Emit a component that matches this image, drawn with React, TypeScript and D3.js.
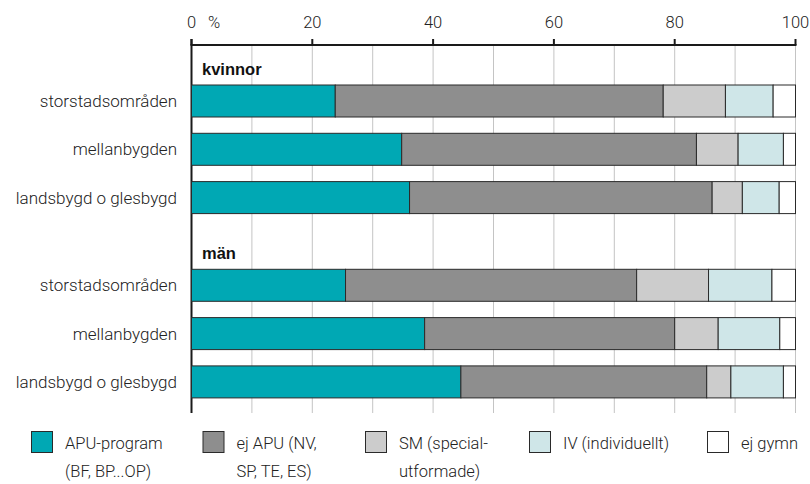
import React from 'react';
import * as d3 from 'd3';

const regions = ['storstadsområden', 'mellanbygden', 'landsbygd o glesbygd'];
const groups = ['kvinnor', 'män'];
const seriesKeys = ['apu', 'ejApu', 'sm', 'iv', 'ejGymn'];

// percent per region, in order of regions
const kvinnorApu = [23.8, 34.8, 36.1];
const kvinnorEjApu = [54.3, 48.8, 50.1];
const kvinnorSm = [10.3, 6.9, 5.0];
const kvinnorIv = [7.9, 7.5, 6.1];
const kvinnorEjGymn = [3.7, 2.0, 2.7];

const manApu = [25.5, 38.6, 44.6];
const manEjApu = [48.2, 41.4, 40.7];
const manSm = [11.9, 7.2, 4.0];
const manIv = [10.5, 10.2, 8.7];
const manEjGymn = [3.9, 2.6, 2.0];

const legendLines = [
  ['APU-program', '(BF, BP...OP)'],
  ['ej APU (NV,', 'SP, TE, ES)'],
  ['SM (special-', 'utformade)'],
  ['IV (individuellt)'],
  ['ej gymn'],
];
const colors = ['#00a8b4', '#8e8e8e', '#cccccc', '#cfe6e8', '#ffffff'];
const xTicks = [0, 20, 40, 60, 80, 100];
const gridTicks = d3.range(10, 101, 10);

const groupData = [
  [kvinnorApu, kvinnorEjApu, kvinnorSm, kvinnorIv, kvinnorEjGymn],
  [manApu, manEjApu, manSm, manIv, manEjGymn],
];

const W = 810;
const H = 484;
const font = 'Roboto, "Liberation Sans", Arial, sans-serif';

const App: React.FC = () => {
  const x = d3.scaleLinear().domain([0, 100]).range([191.5, 795.5]);
  const axisY = 45;
  const plotBottom = 413;
  const barH = 32;
  const rowStep = 48.3;
  const groupTop = [85, 269.3];

  const rows = groupData.flatMap((g, gi) =>
    regions.map((name, ri) => {
      const rec: Record<string, number> = {};
      seriesKeys.forEach((k, si) => (rec[k] = g[si][ri]));
      return { name, y: groupTop[gi] + ri * rowStep, rec };
    })
  );
  const stacked = rows.map(r => {
    const s = d3.stack<Record<string, number>>().keys(seriesKeys)([r.rec]);
    return { ...r, segs: s.map(l => [l[0][0], l[0][1]]) };
  });

  const legendX = [31, 202.5, 365, 529, 707];
  const fs = 16.5;

  return (
    <svg width={W} height={H} style={{ position: 'absolute', left: 0, top: 0 }} fontFamily={font} fontWeight={300}>
      <rect width={W} height={H} fill="#fff" />
      {gridTicks.map(t => (
        <line key={t} x1={x(t)} x2={x(t)} y1={axisY} y2={plotBottom} stroke="#c4c4c4" strokeWidth={1} />
      ))}
      <line x1={x(0)} x2={x(0)} y1={axisY - 6} y2={plotBottom} stroke="#1a1a1a" strokeWidth={2} />
      <line x1={x(0) - 1} x2={x(100) + 1} y1={axisY} y2={axisY} stroke="#1a1a1a" strokeWidth={2} />
      {xTicks.map(t => (
        <g key={t}>
          <line x1={x(t)} x2={x(t)} y1={axisY - 6} y2={axisY} stroke="#1a1a1a" strokeWidth={2} />
          <text x={x(t)} y={28} textAnchor="middle" fontSize={fs} fill="#222">{t}</text>
        </g>
      ))}
      <text x={208} y={28} fontSize={fs} fill="#222">%</text>
      {groups.map((g, gi) => (
        <text key={g} x={202} y={groupTop[gi] - 10} fontSize={16.5} fontWeight="bold"
          fontFamily='"Liberation Sans", Arial, sans-serif' fill="#111">{g}</text>
      ))}
      {stacked.map((r, i) => (
        <g key={i}>
          <text x={177} y={r.y + barH / 2 + 6} textAnchor="end" fontSize={17} fill="#222">{r.name}</text>
          {r.segs.map(([a, b], si) => (
            <rect key={si} x={x(a)} y={r.y} width={x(b) - x(a)} height={barH}
              fill={colors[si]} stroke="#2a2a2a" strokeWidth={1} />
          ))}
        </g>
      ))}
      {legendLines.map((lines, i) => (
        <g key={i}>
          <rect x={legendX[i] + 0.5} y={431.5} width={21} height={21} fill={colors[i]} stroke="#2a2a2a" strokeWidth={1} />
          {lines.map((l, li) => (
            <text key={li} x={legendX[i] + 34} y={449 + li * 28} fontSize={fs} fill="#222">{l}</text>
          ))}
        </g>
      ))}
    </svg>
  );
};

export default App;
